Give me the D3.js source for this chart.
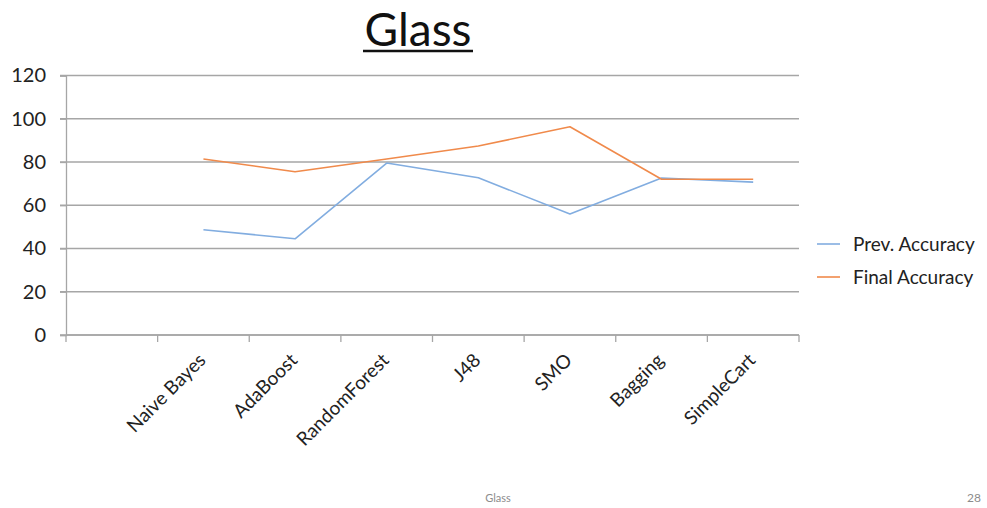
<!DOCTYPE html>
<html>
<head>
<meta charset="utf-8">
<script src="https://cdn.jsdelivr.net/npm/d3@7"></script>
<style>
  html, body { margin: 0; padding: 0; background: #fff; }
  svg { display: block; font-family: Lato, "Open Sans", sans-serif; }
</style>
</head>
<body>
<svg id="chart" width="987" height="508"></svg>
<script>
// Categories (first slot is left empty on the axis)
const categories = ["", "Naive Bayes", "AdaBoost", "RandomForest", "J48", "SMO", "Bagging", "SimpleCart"];
const prevAccuracy = [null, 48.7, 44.5, 79.5, 72.7, 56.0, 72.6, 70.7];
const finalAccuracy = [null, 81.4, 75.5, 81.4, 87.4, 96.3, 72.0, 72.0];
const yTicks = [0, 20, 40, 60, 80, 100, 120];
const seriesNames = ["Prev. Accuracy", "Final Accuracy"];
const seriesColors = ["#82ade0", "#f08a4b"];

const svg = d3.select("#chart");
const plot = { left: 66, right: 799, top: 75.5, bottom: 335 };

const x = d3.scaleBand().domain(categories.map((c, i) => i)).range([plot.left, plot.right]);
const y = d3.scaleLinear().domain([0, 120]).range([plot.bottom, plot.top]);

// Title
const title = svg.append("text")
  .attr("x", 418).attr("y", 46)
  .attr("text-anchor", "middle")
  .attr("font-size", 46)
  .attr("fill", "#111")
  .text("Glass");
svg.append("line")
  .attr("x1", 363).attr("x2", 473).attr("y1", 51).attr("y2", 51)
  .attr("stroke", "#111").attr("stroke-width", 2.5);

// Horizontal gridlines
svg.append("g")
  .selectAll("line")
  .data(yTicks)
  .join("line")
  .attr("x1", plot.left - 6).attr("x2", plot.right)
  .attr("y1", d => y(d)).attr("y2", d => y(d))
  .attr("stroke", "#a6a6a6").attr("stroke-width", 1.3);

// Y axis
const yAxis = svg.append("g")
  .attr("transform", `translate(${plot.left},0)`)
  .call(d3.axisLeft(y).tickValues(yTicks).tickSize(6).tickPadding(14));
yAxis.select(".domain").attr("stroke", "#a6a6a6").attr("stroke-width", 1.3);
yAxis.selectAll(".tick line").attr("stroke", "#a6a6a6").attr("stroke-width", 1.3);
yAxis.selectAll("text").attr("font-size", 20).attr("fill", "#222")
  .attr("font-family", "Lato, sans-serif");

// X axis: ticks at band boundaries
const bounds = categories.map((c, i) => x(i)).concat([plot.right]);
svg.append("line")
  .attr("x1", plot.left).attr("x2", plot.right)
  .attr("y1", plot.bottom).attr("y2", plot.bottom)
  .attr("stroke", "#a6a6a6").attr("stroke-width", 1.3);
svg.append("g")
  .selectAll("line")
  .data(bounds)
  .join("line")
  .attr("x1", d => d).attr("x2", d => d)
  .attr("y1", plot.bottom).attr("y2", plot.bottom + 7)
  .attr("stroke", "#a6a6a6").attr("stroke-width", 1.3);

// X labels, rotated
svg.append("g")
  .selectAll("text")
  .data(categories.map((c, i) => ({ c, i })).filter(d => d.c))
  .join("text")
  .attr("transform", d => `translate(${x(d.i) + x.bandwidth() / 2 - 6},${plot.bottom + 17}) rotate(-45)`)
  .attr("text-anchor", "end")
  .attr("dy", "0.7em")
  .attr("font-size", 19)
  .attr("fill", "#222")
  .text(d => d.c);

// Lines
const line = d3.line()
  .defined(d => d.v != null)
  .x(d => x(d.i) + x.bandwidth() / 2)
  .y(d => y(d.v));

[prevAccuracy, finalAccuracy].forEach((vals, k) => {
  svg.append("path")
    .datum(vals.map((v, i) => ({ v, i })))
    .attr("fill", "none")
    .attr("stroke", seriesColors[k])
    .attr("stroke-width", 1.6)
    .attr("stroke-linejoin", "round")
    .attr("d", line);
});

// Legend
const legend = svg.append("g");
seriesNames.forEach((name, k) => {
  const ly = 244 + k * 33;
  legend.append("line")
    .attr("x1", 817).attr("x2", 840).attr("y1", ly).attr("y2", ly)
    .attr("stroke", seriesColors[k]).attr("stroke-width", 1.6);
  legend.append("text")
    .attr("x", 853).attr("y", ly + 6.5)
    .attr("font-size", 19).attr("fill", "#222")
    .text(name);
});

// Footer
svg.append("text")
  .attr("x", 498).attr("y", 502)
  .attr("text-anchor", "middle")
  .attr("font-size", 11).attr("fill", "#8c8c8c")
  .text("Glass");
svg.append("text")
  .attr("x", 981).attr("y", 502)
  .attr("text-anchor", "end")
  .attr("font-size", 12).attr("fill", "#8c8c8c")
  .text("28");
</script>
</body>
</html>
